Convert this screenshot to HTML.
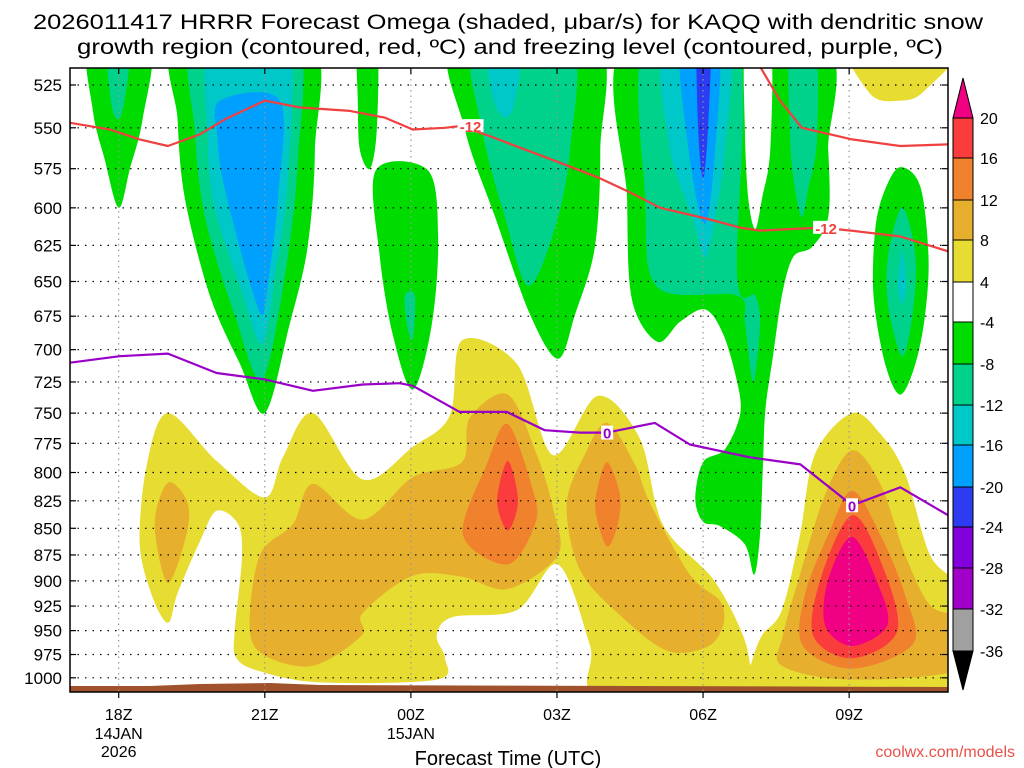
<!DOCTYPE html>
<html><head><meta charset="utf-8"><style>
html,body{margin:0;padding:0;background:#fff;width:1024px;height:768px;overflow:hidden}
svg{display:block}
text{font-family:"Liberation Sans",sans-serif}
</style></head><body>
<svg id="chart" width="1024" height="768" viewBox="0 0 1024 768">
<defs><clipPath id="plotclip"><rect x="70" y="68" width="878" height="624"/></clipPath></defs>
<text x="508" y="29" font-size="21" text-anchor="middle" textLength="950" lengthAdjust="spacingAndGlyphs">2026011417 HRRR Forecast Omega (shaded, μbar/s) for KAQQ with dendritic snow</text>
<text x="510" y="54" font-size="21" text-anchor="middle" textLength="866" lengthAdjust="spacingAndGlyphs">growth region (contoured, red, ºC) and freezing level (contoured, purple, ºC)</text>
<g id="fills" clip-path="url(#plotclip)"></g>
<g id="grid"></g>
<g id="lines" clip-path="url(#plotclip)"></g>
<g id="axes"></g>
<g id="cbar"></g>
<text x="508" y="765" font-size="20" text-anchor="middle">Forecast Time (UTC)</text>
<text x="1015" y="757" font-size="16" text-anchor="end" fill="#e8504a">coolwx.com/models</text>
</svg>
<script>
// ---- data (hour since 18Z, pressure hPa) ----
const pressureTicks=[525,550,575,600,625,650,675,700,725,750,775,800,825,850,875,900,925,950,975,1000];
const timeTicks=[0,3,6,9,12,15];
const timeLabels=["18Z","21Z","00Z","03Z","06Z","09Z"];
const dateLabels=["14JAN","","15JAN","","",""];
const yearLabels=["2026","","","","",""];
const cbLevels=["20","16","12","8","4","-4","-8","-12","-16","-20","-24","-28","-32","-36"];
const cbColors=["#f00082","#fa3c3c","#f0822d","#e6af2d","#e6dc32","#ffffff","#00dc00","#00d28c","#00c8c8","#00a0ff","#2d3cf0","#8200dc","#a000c8","#a0a0a0","#000000"];
const colors={y:"#e6dc32",g:"#e6af2d",o:"#f0822d",r:"#fa3c3c",m:"#f00082",G:"#00dc00",T:"#00d28c",C:"#00c8c8",B:"#00a0ff",D:"#2d3cf0",W:"#ffffff"};

const shapeG1=[[-0.6,500],[0.64,500],[0.49,545],[0.23,575],[0,600],[-0.29,569],[-0.53,540]];
const shapeT1=[[-0.23,500],[0.23,500],[0.12,534],[-0.02,545],[-0.16,534]];
const shapeG2=[[1.21,500],[3.93,500],[4.03,563],[3.88,626],[3.51,681],[3.0,750],[2.49,711],[1.87,660],[1.36,594],[1.21,545]];
const shapeT2=[[1.56,500],[3.62,500],[3.68,569],[3.41,646],[2.94,723],[2.38,674],[1.77,606],[1.56,551]];
const shapeC2=[[1.91,500],[3.45,500],[3.47,581],[3.21,646],[2.94,696],[2.49,653],[1.97,600],[1.83,557]];
const shapeB2=[[2.08,534],[3.31,534],[3.27,594],[3.06,653],[2.94,674],[2.65,646],[2.18,588],[2.03,557]];
const shapeG3=[[4.91,500],[5.30,500],[5.30,551],[5.16,575],[4.95,563],[4.91,534]];
const shapeG4=[[5.28,576],[6.35,576],[6.56,619],[6.43,681],[6.04,731],[5.63,689],[5.36,632]];
const shapeT4=[[5.88,660],[6.08,660],[6.04,692],[5.92,681]];
const shapeG5=[[6.9,500],[9.78,500],[9.89,563],[9.78,626],[9.37,674],[9.02,707],[8.45,674],[7.73,606],[7.11,551]];
const shapeT5=[[7.32,500],[9.27,500],[9.27,563],[8.96,613],[8.41,653],[7.93,606],[7.46,551]];
const shapeC5=[[7.58,500],[8.24,500],[8.14,534],[7.93,544],[7.67,531]];
const shapeG6=[[10.44,500],[14.41,500],[14.57,563],[14.57,606],[14.24,626],[13.85,633],[13.62,660],[13.44,704],[13.28,747],[13.23,793],[13.17,856],[13.05,894],[12.86,865],[12.35,848],[12.0,844],[11.84,823],[12.0,791],[12.45,780],[12.76,751],[12.7,725],[12.41,688],[12.04,670],[11.53,679],[11.06,694],[10.54,663],[10.44,594]];
const shapeW6=[[12.88,500],[13.38,500],[13.38,563],[13.21,594],[13.07,614],[12.93,594],[12.86,551]];
const shapeT6=[[10.81,500],[12.7,500],[12.7,646],[13.07,660],[13.17,681],[13.03,725],[12.86,681],[12.7,660],[11.06,654],[10.81,594]];
const shapeT6b=[[13.79,500],[14.3,500],[14.34,557],[14.16,588],[14.03,606],[13.89,588],[13.79,557]];
const shapeC6=[[11.18,500],[12.51,500],[12.45,563],[12.25,606],[12.04,633],[11.78,606],[11.32,563]];
const shapeB6=[[11.53,500],[12.31,500],[12.25,563],[12.04,611],[11.73,569]];
const shapeD6=[[11.88,500],[12.15,500],[12.1,551],[12.0,581],[11.9,551]];
const shapeG7=[[16.05,574],[16.46,586],[16.63,632],[16.56,674],[16.36,711],[16.05,735],[15.74,711],[15.5,660],[15.54,613],[15.74,588]];
const shapeT7=[[16.09,600],[16.36,632],[16.3,674],[16.09,705],[15.8,667],[15.8,632]];
const shapeC7=[[16.09,629],[16.17,653],[16.09,666],[16.0,653]];
const shapeY8=[[15.02,500],[17.3,500],[16.56,528],[16.05,534],[15.43,530]];
const shapeLY=[[0.43,863],[0.58,793],[1.01,750],[2.01,790],[3.0,822],[3.37,787],[3.99,750],[5.01,806],[6.04,778],[6.8,752],[7.05,693],[8.18,711],[8.92,785],[9.84,736],[10.7,771],[11.18,847],[12.2,898],[12.82,955],[13.0,998],[13.07,1020],[9.88,1020],[9.68,966],[9.02,884],[8.18,929],[6.86,936],[6.53,955],[6.7,979],[6.53,1002],[4.13,1005],[2.9,993],[2.42,979],[2.38,951],[2.53,878],[2.45,846],[2.01,834],[1.66,863],[1.21,912],[1.01,942],[0.68,914]];
const shapeYR=[[15.06,750],[15.64,767],[16.15,801],[16.66,875],[17.3,914],[17.3,1020],[12.86,1020],[13.0,983],[13.21,955],[13.62,929],[13.99,856],[14.3,784]];
const shapeGL=[[1.01,809],[1.4,825],[1.4,854],[1.01,902],[0.74,846]];
const shapeGM=[[3.99,810],[5.01,842],[6.04,804],[7.05,791],[7.21,754],[7.99,735],[8.59,785],[8.92,832],[9.02,875],[7.99,908],[7.05,896],[6.04,895],[5.01,932],[4.99,955],[3.99,987],[3.0,976],[2.69,947],[2.9,875],[3.58,846]];
const shapeOM=[[7.99,759],[8.51,816],[8.55,846],[7.99,884],[7.07,856],[7.56,793]];
const shapeRM=[[7.99,790],[8.2,825],[7.99,852],[7.77,825]];
const shapeG04=[[10.03,758],[10.6,793],[10.91,827],[11.73,894],[12.35,920],[12.41,945],[12.08,967],[11.26,971],[10.29,934],[9.47,889],[9.2,828],[9.58,784]];
const shapeO04=[[10.03,791],[10.29,819],[10.25,846],[10.03,867],[9.8,837],[9.82,816]];
const shapeG09=[[15.06,781],[15.64,810],[16.15,875],[16.66,924],[17.3,940],[17.3,990],[15.02,1002],[13.62,987],[13.64,955],[13.99,894],[14.51,819]];
const shapeO09=[[15.06,816],[15.64,856],[16.15,914],[16.31,964],[15.06,990],[14.05,966],[14.09,914],[14.57,856]];
const shapeR09=[[15.06,838],[15.64,880],[15.99,950],[15.06,979],[14.26,955],[14.44,894]];
const shapeM09=[[15.06,858],[15.6,904],[15.78,945],[15.06,966],[14.51,945],[14.57,899]];

const dgzHours=[-1.0,-0.18,0.43,1.01,1.66,2.18,3.0,3.72,4.75,5.47,6.04,6.7,7.0,7.62,8.24,9.04,9.88,10.5,11.12,12.06,12.76,13.17,13.79,14.41,15.04,16.05,17.03];
const dgzPres=[547,551,557,561,554,545,534,538,540,544,551,550,549,555,562,571,581,590,600,607,613,615,614,613,615,619,629];
const dgzUpperHours=[13.07,13.58,14.03,15.06,16.05,17.03];
const dgzUpperPres=[510,534,550,557,561,560];
const frzHours=[-1.0,0.02,1.01,2.01,3.0,3.99,5.01,5.77,6.04,7.0,7.56,7.97,8.75,9.47,10.03,11.01,11.73,12.97,14.0,15.06,16.05,17.03];
const frzPres=[710,705,703,718,723,732,727,726,728,749,749,749,764,766,766,758,776,787,793,829,813,838];
const dgzLabelHours=[7.0,14.3];
const frzLabelHours=[10.03,15.06];

const shapeList=[
 ["y",shapeLY,"omega-4-8-left"],["y",shapeYR,"omega-4-8-right"],["y",shapeY8,"omega-4-8-top"],
 ["g",shapeGL,"omega-8-12-a"],["g",shapeGM,"omega-8-12-b"],["g",shapeG04,"omega-8-12-c"],["g",shapeG09,"omega-8-12-d"],
 ["o",shapeOM,"omega-12-16-a"],["o",shapeO04,"omega-12-16-b"],["o",shapeO09,"omega-12-16-c"],
 ["r",shapeRM,"omega-16-20-a"],["r",shapeR09,"omega-16-20-b"],["m",shapeM09,"omega-over-20"],
 ["G",shapeG1,"omega-neg4-a"],["G",shapeG2,"omega-neg4-b"],["G",shapeG3,"omega-neg4-c"],["G",shapeG4,"omega-neg4-d"],["G",shapeG5,"omega-neg4-e"],["G",shapeG6,"omega-neg4-f"],["G",shapeG7,"omega-neg4-g"],
 ["W",shapeW6,"omega-gap"],
 ["T",shapeT1,"omega-neg8-a"],["T",shapeT2,"omega-neg8-b"],["T",shapeT4,"omega-neg8-c"],["T",shapeT5,"omega-neg8-d"],["T",shapeT6,"omega-neg8-e"],["T",shapeT6b,"omega-neg8-f"],["T",shapeT7,"omega-neg8-g"],
 ["C",shapeC2,"omega-neg12-a"],["C",shapeC5,"omega-neg12-b"],["C",shapeC6,"omega-neg12-c"],["C",shapeC7,"omega-neg12-d"],
 ["B",shapeB2,"omega-neg16-a"],["B",shapeB6,"omega-neg16-b"],["D",shapeD6,"omega-neg20"]
];

// ---- scales ----
const X0=70,X1=948,H0=-1,H1=17.03;
function xs(h){return X0+(h-H0)*(X1-X0)/(H1-H0);}
function ys(p){return 85+920*Math.log(p/525);}
const NS="http://www.w3.org/2000/svg";
function mk(tag,attrs,parent){const e=document.createElementNS(NS,tag);for(const k in attrs)e.setAttribute(k,attrs[k]);parent.appendChild(e);return e;}
function smooth(pts){
 const n=pts.length;let d="M"+pts[0][0].toFixed(1)+","+pts[0][1].toFixed(1);
 for(let i=0;i<n;i++){const p0=pts[(i-1+n)%n],p1=pts[i],p2=pts[(i+1)%n],p3=pts[(i+2)%n];const t=0.16;
  d+="C"+(p1[0]+(p2[0]-p0[0])*t).toFixed(1)+","+(p1[1]+(p2[1]-p0[1])*t).toFixed(1)+" "+(p2[0]-(p3[0]-p1[0])*t).toFixed(1)+","+(p2[1]-(p3[1]-p1[1])*t).toFixed(1)+" "+p2[0].toFixed(1)+","+p2[1].toFixed(1);}
 return d+"Z";}

const fills=document.getElementById('fills');
for(const s of shapeList){
 const pts=s[1].map(q=>[xs(q[0]),ys(q[1])]);
 const el=mk('path',{d:smooth(pts),fill:colors[s[0]]},fills);
 
 
}
const gnd=mk('path',{d:"M70,686 L150,686 L200,684 L270,683 L320,685 L948,687 L948,692 L70,692Z",fill:"#a0522d"},fills);



// grid
const grid=document.getElementById('grid');
for(const p of pressureTicks){
 const l=mk('line',{x1:70,x2:948,y1:ys(p),y2:ys(p),stroke:"#000","stroke-width":1.2,"stroke-dasharray":"1.5,6"},grid);
 
 
}
for(const h of timeTicks){
 const l=mk('line',{x1:xs(h),x2:xs(h),y1:68,y2:692,stroke:"#999","stroke-width":1.2,"stroke-dasharray":"1.5,4"},grid);
 
 
}

// contour lines
const lines=document.getElementById('lines');
function drawLine(hs,ps,color,name){
 const pts=hs.map((h,i)=>xs(h).toFixed(1)+","+ys(ps[i]).toFixed(1)).join(" ");
 const el=mk('polyline',{points:pts,fill:"none",stroke:color,"stroke-width":2.2,"stroke-linejoin":"round"},lines);
 
 
}
function interpP(hs,ps,h){for(let i=0;i<hs.length-1;i++){if(h>=hs[i]&&h<=hs[i+1]){const f=(h-hs[i])/(hs[i+1]-hs[i]);return ps[i]+f*(ps[i+1]-ps[i]);}}return ps[0];}
drawLine(dgzHours,dgzPres,"#f04040","dgz-minus12-line");
drawLine(dgzUpperHours,dgzUpperPres,"#f04040","dgz-upper-line");
drawLine(frzHours,frzPres,"#9a00c8","freezing-level-line");
for(const h of dgzLabelHours){
 const px=xs(h),py=ys(interpP(dgzHours,dgzPres,h));
 mk('rect',{x:px-2,y:py-7,width:26,height:13,fill:"#fff"},lines);
 const t=mk('text',{x:px+11,y:py+6,"font-size":15,"font-weight":"bold","text-anchor":"middle",fill:"#f04040"},lines);
 t.textContent="-12";
 
 
}
for(const h of frzLabelHours){
 const px=xs(h),py=ys(interpP(frzHours,frzPres,h));
 mk('rect',{x:px-6,y:py-7,width:12,height:14,fill:"#fff"},lines);
 const t=mk('text',{x:px,y:py+6,"font-size":15,"font-weight":"bold","text-anchor":"middle",fill:"#9a00c8"},lines);
 t.textContent="0";
 
 
}

// axes
const axes=document.getElementById('axes');
const fr=mk('rect',{x:70,y:68,width:878,height:624,fill:"none",stroke:"#000","stroke-width":1.5},axes);


for(const p of pressureTicks){
 mk('line',{x1:70,x2:76,y1:ys(p),y2:ys(p),stroke:"#000","stroke-width":1.2},axes);
 mk('line',{x1:942,x2:948,y1:ys(p),y2:ys(p),stroke:"#000","stroke-width":1.2},axes);
 const t=mk('text',{x:62,y:ys(p)+6,"font-size":17,"text-anchor":"end"},axes);
 t.textContent=p;
 
 
}
timeTicks.forEach((h,i)=>{
 mk('line',{x1:xs(h),x2:xs(h),y1:692,y2:698,stroke:"#000","stroke-width":1.2},axes);
 mk('line',{x1:xs(h),x2:xs(h),y1:68,y2:74,stroke:"#000","stroke-width":1.2},axes);
 const t=mk('text',{x:xs(h),y:720,"font-size":16,"text-anchor":"middle"},axes);
 t.textContent=timeLabels[i];
 
 
 if(dateLabels[i]){const d=mk('text',{x:xs(h),y:739,"font-size":16,"text-anchor":"middle"},axes);d.textContent=dateLabels[i];
  
  }
 if(yearLabels[i]){const d=mk('text',{x:xs(h),y:757,"font-size":16,"text-anchor":"middle"},axes);d.textContent=yearLabels[i];
  
  }
});

// colorbar
const cb=document.getElementById('cbar');
const cbTops=[78,118,158,200,240,282,322,364,405,445,487,527,568,609,651,690];
for(let i=0;i<cbColors.length;i++){
 const y0=cbTops[i],y1=cbTops[i+1];let el;
 if(i===0) el=mk('polygon',{points:`963,${y0} 973,${y1} 953,${y1}`,fill:cbColors[i],stroke:"#000","stroke-width":1},cb);
 else if(i===cbColors.length-1) el=mk('polygon',{points:`953,${y0} 973,${y0} 963,${y1}`,fill:cbColors[i],stroke:"#000","stroke-width":1},cb);
 else el=mk('rect',{x:953,y:y0,width:20,height:y1-y0,fill:cbColors[i],stroke:"#000","stroke-width":1},cb);
 
 
}
cbLevels.forEach((v,i)=>{
 const t=mk('text',{x:980,y:cbTops[i+1]+6,"font-size":16},cb);
 t.textContent=v;
 
 
});
</script>
</body></html>
